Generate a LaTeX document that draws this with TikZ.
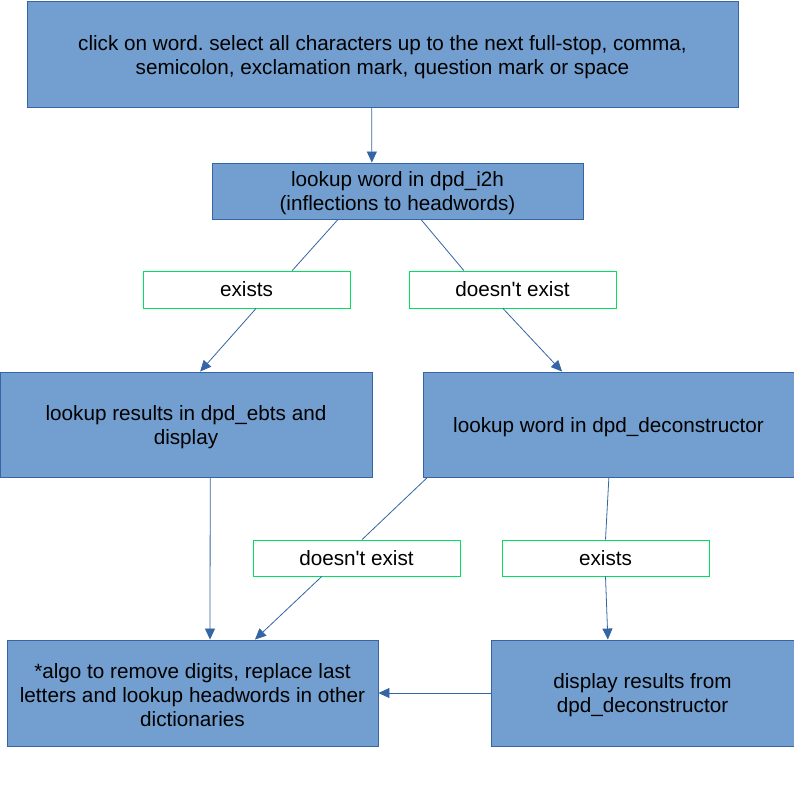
\documentclass[tikz,border=0pt]{standalone}
\usepackage{fontspec}
\setmainfont{Liberation Sans}[Ligatures=TeXOff]
\usetikzlibrary{arrows.meta,calc}
\definecolor{boxfill}{HTML}{729FCF}
\definecolor{boxline}{HTML}{3465A4}
\definecolor{lblline}{HTML}{00E060}
\newcommand{\upstrut}{\rule{0pt}{20pt}}
\begin{document}
\frenchspacing
\begin{tikzpicture}[x=1pt,y=-1pt,
  every node/.style={font=\fontsize{20.7}{24}\selectfont\frenchspacing, align=center, inner sep=0pt},
  bluebox/.style={draw=boxline, fill=boxfill, line width=0.9pt},
  lblbox/.style={draw=lblline, fill=white, line width=0.9pt, minimum width=207pt, minimum height=37pt},
  conn/.style={draw=boxline, line width=0.8pt},
  arr/.style={conn, -{Triangle[length=11pt,width=10pt]}}]
\useasboundingbox (0,0) rectangle (794,794);
\clip (0,0) rectangle (794,794);
\node[bluebox, minimum width=711pt, minimum height=106pt] (b1) at (382.5,54.5)
  {\upstrut click on word. select all characters up to the next full-stop, comma,\\semicolon, exclamation mark, question mark or space};
\node[bluebox, minimum width=371pt, minimum height=56pt] (b2) at (397.5,191)
  {\upstrut lookup word in dpd\_i2h\\(inflections to headwords)};
\node[lblbox] (e1) at (246.5,289.5) {exists};
\node[lblbox] (d1) at (512.5,289.5) {doesn't exist};
\node[bluebox, minimum width=372pt, minimum height=105pt] (b3) at (186,424.5)
  {\upstrut lookup results in dpd\_ebts and\\display};
\node[bluebox, minimum width=371pt, minimum height=105pt] (b4) at (608.5,424.5)
  {\upstrut lookup word in dpd\_deconstructor};
\node[lblbox, minimum height=36pt] (d2) at (356.5,558) {doesn't exist};
\node[lblbox, minimum height=36pt] (e2) at (605.5,558) {exists};
\node[bluebox, minimum width=371pt, minimum height=106pt] (b5) at (192.5,693)
  {\upstrut *algo to remove digits, replace last\\letters and lookup headwords in other\\dictionaries};
\node[bluebox, minimum width=303pt, minimum height=106pt] (b6) at (642.5,693)
  {\upstrut display results from\\dpd\_deconstructor};
% connectors
\draw[arr] ($(b1.south west)!0.485!(b1.south east)$) -- ($(b2.north west)!0.431!(b2.north east)$);
\draw[conn] ($(b2.south west)!0.34!(b2.south east)$) -- ($(e1.north west)!0.72!(e1.north east)$);
\draw[arr] ($(e1.south west)!0.546!(e1.south east)$) -- ($(b3.north west)!0.538!(b3.north east)$);
\draw[conn] ($(b2.south west)!0.563!(b2.south east)$) -- ($(d1.north west)!0.266!(d1.north east)$);
\draw[arr] ($(d1.south west)!0.454!(d1.south east)$) -- ($(b4.north west)!0.375!(b4.north east)$);
\draw[arr] ($(b3.south west)!0.565!(b3.south east)$) -- ($(b5.north west)!0.547!(b5.north east)$);
\draw[conn] ($(b4.south west)!0.013!(b4.south east)$) -- ($(d2.north west)!0.527!(d2.north east)$);
\draw[arr] ($(d2.south west)!0.333!(d2.south east)$) -- ($(b5.north west)!0.668!(b5.north east)$);
\draw[conn] ($(b4.south west)!0.501!(b4.south east)$) -- ($(e2.north west)!0.50!(e2.north east)$);
\draw[arr] ($(e2.south west)!0.50!(e2.south east)$) -- ($(b6.north west)!0.386!(b6.north east)$);
\draw[arr] (b6.west) -- (b5.east);
\end{tikzpicture}
\end{document}
